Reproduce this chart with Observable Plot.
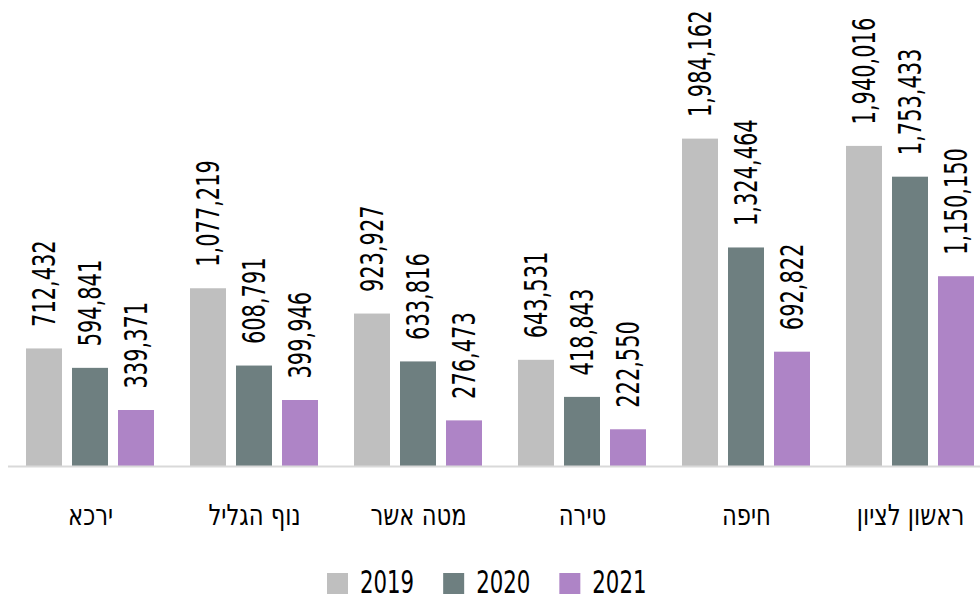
<!DOCTYPE html>
<html><head><meta charset="utf-8">
<script src="https://cdn.jsdelivr.net/npm/d3@7"></script>
<script src="https://cdn.jsdelivr.net/npm/@observablehq/plot@0.6"></script>
<style>
body{margin:0;width:980px;height:601px;overflow:hidden;background:#fff;position:relative;font-family:"DejaVu Sans Condensed","DejaVu Sans",sans-serif}
#chart{position:absolute;left:0;top:0}
#chart svg{max-width:none !important}
#legend{position:absolute;top:560px;left:0;width:980px;height:41px}
</style></head>
<body>
<div id="chart"></div>
<svg id="legend" width="980" height="41"></svg>
<script>
const categories = ["ירכא","נוף הגליל","מטה אשר","טירה","חיפה","ראשון לציון"];
const years = ["2019","2020","2021"];
const values2019 = [712432,1077219,923927,643531,1984162,1940016];
const values2020 = [594841,608791,633816,418843,1324464,1753433];
const values2021 = [339371,399946,276473,222550,692822,1150150];
const colors = ["#bfbfbf","#6e7f80","#ae84c6"];

const series = [values2019, values2020, values2021];
const data = [];
categories.forEach((c, i) => years.forEach((yr, j) => data.push({city: c, year: yr, value: series[j][i]})));
const fmt = d3.format(",");

const chart = Plot.plot({
  width: 992, height: 545,
  marginLeft: 8, marginRight: 0, marginTop: 136, marginBottom: 79,
  style: {fontFamily: '"DejaVu Sans Condensed","DejaVu Sans",sans-serif', background: "transparent", color: "#000", maxWidth: "none"},
  fx: {domain: categories, padding: 0, label: null},
  x: {domain: years, paddingInner: 0.217, paddingOuter: 0.391, axis: null},
  y: {domain: [0, 2000000], axis: null},
  color: {domain: years, range: colors},
  marks: [
    Plot.barY(data, {fx: "city", x: "year", y: "value", fill: "year"}),
    Plot.ruleY([0], {stroke: "#d9d9d9", strokeWidth: 2}),
    Plot.text(data, {fx: "city", x: "year", y: "value", text: d => fmt(d.value), rotate: -90, textAnchor: "start", dy: -22, fontSize: 31.5, fill: "#000"}),
    Plot.axisFx({anchor: "bottom", tickSize: 0, tickPadding: 38, fontSize: 29, label: null})
  ]
});
chart.style.maxWidth = "none";
const sel = d3.select(chart);
sel.selectAll('g[aria-label="text"] text').each(function() {
  const t = this.getAttribute("transform") || "";
  this.setAttribute("transform", t + " scale(0.74,1)");
});
sel.selectAll('g[aria-label="fx-axis tick label"] text').each(function() {
  const t = this.getAttribute("transform") || "";
  this.setAttribute("transform", t + " scale(0.87,1)");
});
document.getElementById("chart").appendChild(chart);

// legend
const lg = d3.select("#legend");
let lx = 327;
years.forEach((yr, i) => {
  lg.append("rect").attr("x", lx).attr("y", 13).attr("width", 21).attr("height", 21).attr("fill", colors[i]);
  lx += 21 + 12;
  const t = lg.append("text")
    .attr("transform", `translate(${lx},33) scale(0.74,1)`)
    .attr("font-size", 32)
    .attr("font-family", '"DejaVu Sans Condensed","DejaVu Sans",sans-serif')
    .attr("fill", "#000")
    .text(yr);
  const w = t.node().getComputedTextLength() * 0.74;
  lx += w + 29;
});
</script>
</body></html>
